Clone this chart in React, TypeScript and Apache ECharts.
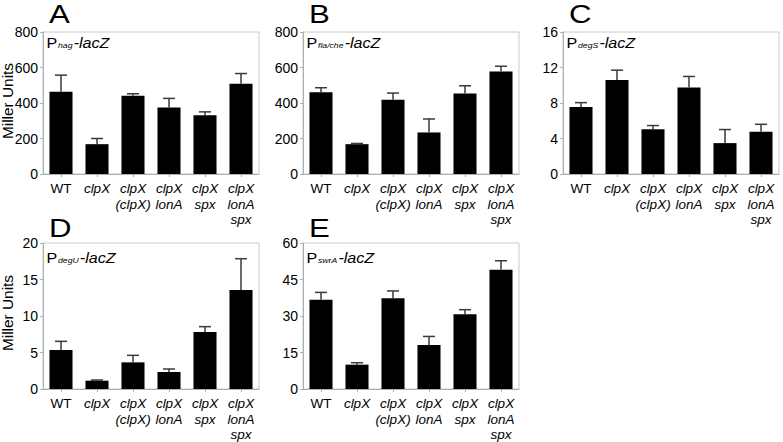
import React, { useEffect, useRef } from "react";
import * as echarts from "echarts";

const categories = ["WT", "clpX", "clpX\n(clpX)", "clpX\nlonA", "clpX\nspx", "clpX\nlonA\nspx"];

const hagMean = [463, 168, 441, 374, 331, 508];
const hagErr = [94, 32, 11, 52, 19, 58];
const flaMean = [460, 168, 419, 234, 454, 578];
const flaErr = [26, 4, 37, 76, 43, 29];
const degSMean = [7.55, 10.58, 5.05, 9.76, 3.48, 4.75];
const degSErr = [0.49, 1.12, 0.41, 1.23, 1.53, 0.85];
const degUMean = [5.34, 1.14, 3.65, 2.33, 7.81, 13.56];
const degUErr = [1.19, 0.09, 0.96, 0.41, 0.73, 4.29];
const swrAMean = [36.7, 10.0, 37.3, 18.1, 30.7, 49.0];
const swrAErr = [3.0, 0.8, 3.0, 3.5, 1.9, 3.7];

const panelLetters = ["A", "B", "C", "D", "E"];
const promoters = ["hag", "fla/che", "degS", "degU", "swrA"];
const yMax = [800, 800, 16, 20, 60];
const yInterval = [200, 200, 4, 5, 15];
const yTitle = "Miller Units";

const means = [hagMean, flaMean, degSMean, degUMean, swrAMean];
const errs = [hagErr, flaErr, degSErr, degUErr, swrAErr];

const grids = [
  { left: 43, top: 32, width: 216, height: 142 },
  { left: 303, top: 32, width: 216, height: 142 },
  { left: 563, top: 32, width: 216, height: 142 },
  { left: 43, top: 243, width: 216, height: 146 },
  { left: 303, top: 243, width: 216, height: 146 },
];

const SANS = "'Liberation Sans', Arial, Helvetica, sans-serif";
const SX = 1.15;

function measure(text: string, font: string): number {
  const c = document.createElement("canvas");
  const ctx = c.getContext("2d");
  if (!ctx) return text.length * 7;
  ctx.font = font;
  return ctx.measureText(text).width;
}

export default function App() {
  const ref = useRef<HTMLDivElement>(null);
  useEffect(() => {
    if (!ref.current) return;
    const chart = echarts.init(ref.current, null, { renderer: "svg" });

    const graphic: any[] = [];
    grids.forEach((g, i) => {
      const topRow = i < 3;
      const lb = topRow ? 23 : 237;
      graphic.push({
        type: "text",
        x: g.left + 6,
        y: lb - 0.35 * 26,
        scaleX: 1.2,
        style: { text: panelLetters[i], font: `26px ${SANS}`, fill: "#000", verticalAlign: "middle", align: "left" },
      });
      const base = g.top + (topRow ? 16 : 20);
      const x0 = g.left + 3.5;
      const pw = measure("P", `14px ${SANS}`) * SX;
      const sw = measure(promoters[i], `italic 7.5px ${SANS}`) * SX;
      graphic.push({
        type: "text",
        x: x0,
        y: base - 0.35 * 14,
        scaleX: SX,
        style: { text: "P", font: `14px ${SANS}`, fill: "#000", verticalAlign: "middle", align: "left" },
      });
      graphic.push({
        type: "text",
        x: x0 + pw + 0.8,
        y: base + 0.5 - 0.35 * 7.5,
        scaleX: SX,
        style: { text: promoters[i], font: `italic 7.5px ${SANS}`, fill: "#000", verticalAlign: "middle", align: "left" },
      });
      graphic.push({
        type: "text",
        x: x0 + pw + 0.8 + sw + 1.2,
        y: base - 0.35 * 14,
        scaleX: SX,
        style: { text: "-lacZ", font: `italic 14px ${SANS}`, fill: "#000", verticalAlign: "middle", align: "left" },
      });
    });
    [101, 313].forEach((cy) => {
      graphic.push({
        type: "text",
        x: 8.5,
        y: cy,
        rotation: Math.PI / 2,
        scaleX: 1.1,
        style: { text: yTitle, font: `14px ${SANS}`, fill: "#000", verticalAlign: "middle", align: "center" },
      });
    });

    const labelRich = {
      i: { fontStyle: "italic", fontSize: 13.5, lineHeight: 15.5, color: "#000", fontFamily: SANS },
      n: { fontStyle: "normal", fontSize: 13.5, lineHeight: 15.5, color: "#000", fontFamily: SANS },
    };

    const option: any = {
      animation: false,
      backgroundColor: "#fff",
      graphic,
      grid: grids.map((g) => ({ ...g, show: true, borderColor: "#c3cbcb", borderWidth: 1, backgroundColor: "transparent" })),
      xAxis: grids.map((_, i) => ({
        type: "category",
        gridIndex: i,
        data: categories,
        axisLine: { show: true, lineStyle: { color: "#a9b1b1", width: 1 } },
        axisTick: { show: true, alignWithLabel: true, length: 3, lineStyle: { color: "#a9b1b1" } },
        axisLabel: {
          interval: 0,
          margin: 7,
          formatter: (v: string) =>
            v === "WT" ? "{n|WT}" : v.split("\n").map((l) => `{i|${l}}`).join("\n"),
          rich: labelRich,
        },
      })),
      yAxis: grids.map((_, i) => ({
        type: "value",
        gridIndex: i,
        min: 0,
        max: yMax[i],
        interval: yInterval[i],
        splitLine: { show: false },
        axisLine: { show: true, lineStyle: { color: "#a9b1b1", width: 1 } },
        axisTick: { show: true, length: 3, lineStyle: { color: "#a9b1b1" } },
        axisLabel: { fontSize: 14, fontFamily: SANS, color: "#000", margin: 5 },
      })),
      series: [] as any[],
    };

    grids.forEach((_, i) => {
      option.series.push({
        type: "bar",
        xAxisIndex: i,
        yAxisIndex: i,
        data: means[i],
        barWidth: "64%",
        itemStyle: { color: "#000" },
        z: 2,
      });
      option.series.push({
        type: "custom",
        xAxisIndex: i,
        yAxisIndex: i,
        z: 3,
        data: means[i].map((m, k) => [k, m, m + errs[i][k]]),
        renderItem: (params: any, api: any) => {
          const idx = api.value(0);
          const p0 = api.coord([idx, api.value(1)]);
          const p1 = api.coord([idx, api.value(2)]);
          const cap = 6;
          const st = { stroke: "#3a3a3a", lineWidth: 1.5 };
          return {
            type: "group",
            children: [
              { type: "line", shape: { x1: p0[0], y1: p0[1], x2: p1[0], y2: p1[1] }, style: st },
              { type: "line", shape: { x1: p1[0] - cap, y1: p1[1], x2: p1[0] + cap, y2: p1[1] }, style: st },
            ],
          };
        },
      });
    });

    chart.setOption(option);
    return () => chart.dispose();
  }, []);

  return (
    <div
      ref={ref}
      style={{ position: "fixed", left: 0, top: 0, width: 783, height: 442, background: "#fff" }}
    />
  );
}
